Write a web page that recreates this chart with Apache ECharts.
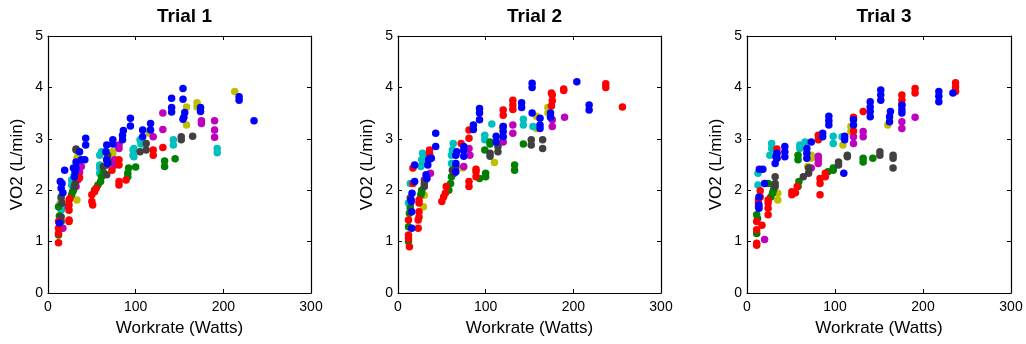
<!DOCTYPE html>
<html>
<head>
<meta charset="utf-8">
<script src="https://cdn.jsdelivr.net/npm/echarts@6/dist/echarts.min.js"></script>
<style>html,body{margin:0;padding:0;background:#fff;}#c{width:1026px;height:344px;}</style>
</head>
<body>
<div id="c"></div>
<script>
// ---- Data (Workrate W, VO2 L/min) ----
const trialTitles = ['Trial 1', 'Trial 2', 'Trial 3'];
const xTicks = [0, 100, 200, 300];
const yTicks = [0, 1, 2, 3, 4, 5];
const xAxisName = 'Workrate (Watts)';
const yAxisName = 'VO2 (L/min)';
const subjectNames = ['S1', 'S2', 'S3', 'S4', 'S5', 'S6', 'S7'];

// Trial 1
const t1Yellow = [[15,1.63],[14,1.75],[33,1.81],[33,2.62],[34,2.65],[35,2.55],[60,2.40],[73,2.68],[73,2.75],[74,2.72],[116,3.11],[116,3.17],[158,3.27],[158,3.62],[170,3.62],[170,3.70],[213,3.92]];
const t1Magenta = [[17,1.26],[17,1.68],[32,2.07],[34,2.20],[38,2.46],[36,2.35],[76,2.49],[76,2.59],[80,2.85],[81,2.81],[81,2.88],[120,3.04],[131,3.18],[131,3.50],[175,3.30],[175,3.35],[190,3.03],[190,3.17],[190,3.35]];
const t1Cyan = [[15,1.61],[15,1.84],[15,1.70],[27,2.10],[27,2.20],[30,2.30],[59,2.33],[59,2.43],[59,2.49],[59,2.68],[61,2.75],[97,2.68],[97,2.78],[98,2.65],[98,2.81],[105,2.98],[106,2.90],[143,2.88],[143,2.98],[193,2.73],[193,2.81]];
const t1Green = [[12,1.13],[12,1.68],[13,1.50],[27,1.91],[28,1.97],[29,2.00],[53,2.00],[57,2.10],[60,2.17],[61,2.26],[63,2.35],[91,2.26],[91,2.33],[92,2.43],[100,2.45],[133,2.46],[133,2.57],[145,2.61]];
const t1Gray = [[15,1.39],[15,1.48],[15,1.87],[16,1.75],[30,2.07],[31,2.13],[32,2.78],[32,2.80],[63,2.46],[67,2.30],[67,2.49],[67,2.59],[68,2.68],[69,2.55],[105,2.75],[112,2.78],[112,2.91],[152,2.98],[152,3.04],[165,3.05]];
const t1Red = [[12,0.98],[12,1.16],[12,1.26],[12,1.39],[24,1.39],[24,1.42],[24,1.61],[24,1.71],[24,1.81],[25,1.84],[36,2.24],[50,1.91],[50,1.78],[51,1.71],[53,1.97],[55,2.04],[73,2.39],[81,2.10],[81,2.17],[81,2.49],[81,2.59],[89,2.20],[120,2.68],[120,2.78],[131,2.83]];
const t1Blue = [[13,1.36],[14,2.17],[16,2.13],[15,2.04],[17,1.95],[19,2.39],[29,2.43],[30,2.26],[31,2.36],[32,2.43],[32,2.55],[36,2.75],[38,2.59],[43,2.88],[43,3.01],[42,2.59],[66,2.75],[67,2.88],[67,2.59],[68,2.52],[74,2.98],[74,2.90],[85,2.98],[85,3.07],[86,3.16],[94,3.25],[94,3.40],[108,3.04],[108,3.17],[117,3.17],[117,3.30],[141,3.52],[141,3.61],[141,3.79],[154,3.38],[155,3.42],[156,3.51],[154,3.77],[154,3.98],[174,3.53],[174,3.61],[218,3.75],[218,3.82],[235,3.35]];

// Trial 2
const t2Yellow = [[29,1.68],[30,1.90],[74,2.43],[110,2.54],[119,3.01],[119,3.20],[158,3.20],[158,3.44],[171,3.50],[171,3.61]];
const t2Magenta = [[14,1.70],[30,2.20],[37,2.33],[75,2.46],[82,2.68],[81,2.81],[120,2.94],[131,3.11],[131,3.27],[176,3.24],[176,3.37],[190,3.42]];
const t2Cyan = [[12,1.75],[14,2.13],[26,2.46],[27,2.59],[28,2.72],[29,2.62],[29,2.52],[61,2.52],[61,2.68],[62,2.78],[63,2.91],[99,2.98],[99,3.07],[107,3.29],[143,3.27],[143,3.38],[154,3.24]];
const t2Green = [[12,1.00],[12,1.29],[13,1.55],[14,1.65],[26,1.91],[27,2.00],[27,1.95],[58,2.00],[60,2.13],[61,2.26],[93,2.23],[100,2.26],[100,2.33],[99,2.78],[105,2.90],[105,2.94],[133,2.39],[133,2.49],[143,2.90]];
const t2Gray = [[14,1.85],[30,2.07],[30,2.13],[31,2.20],[62,2.39],[64,2.33],[66,2.46],[105,2.66],[105,2.72],[114,2.75],[114,2.85],[152,2.88],[152,2.98],[165,2.81],[165,2.98]];
const t2Red = [[13,0.90],[12,1.06],[12,1.13],[12,1.42],[17,2.13],[17,2.43],[23,1.26],[23,1.42],[24,1.48],[24,1.58],[24,1.75],[24,1.81],[36,2.68],[36,2.72],[36,2.78],[50,1.78],[52,1.87],[54,1.94],[55,2.07],[72,2.91],[81,2.07],[81,2.17],[81,3.01],[81,3.17],[89,2.26],[89,2.36],[89,2.41],[120,3.24],[120,3.46],[120,3.56],[131,3.57],[131,3.66],[131,3.75],[175,3.64],[176,3.74],[176,3.85],[175,3.89],[189,3.94],[189,3.97],[237,4.00],[237,4.07],[256,3.62]];
const t2Blue = [[15.6,1.26],[15.6,1.58],[15,1.78],[15,1.81],[16,1.94],[19,2.17],[19,2.49],[32,2.30],[33,2.23],[34,2.49],[35,2.59],[37,2.62],[38,2.62],[43,2.85],[43,3.11],[66,2.36],[66,2.52],[66,2.68],[67,2.75],[75,2.66],[75,2.77],[75,2.85],[86,3.18],[86,3.27],[93,3.37],[93,3.50],[93,3.59],[112,2.94],[112,3.05],[120,3.04],[120,3.14],[120,3.24],[141,3.61],[141,3.70],[153,3.50],[153,4.00],[153,4.08],[162,3.20],[162,3.27],[162,3.40],[174,3.42],[174,3.50],[204,4.11],[218,3.56],[218,3.66]];

// Trial 3
const t3Yellow = [[14,1.87],[35,1.81],[35,1.94],[69,2.46],[73,2.62],[73,2.68],[109,2.88],[118,3.14],[118,3.24],[160,3.27]];
const t3Magenta = [[20,1.04],[30,2.10],[73,2.43],[81,2.52],[81,2.59],[81,2.66],[121,2.91],[121,3.04],[132,3.04],[132,3.14],[176,3.20],[176,3.33],[191,3.42]];
const t3Cyan = [[12.5,2.10],[12.5,2.33],[26,2.68],[28,2.81],[28,2.91],[60,2.81],[60,2.88],[66,2.94],[98,2.91],[98,3.05],[108,3.04]];
const t3Green = [[11,1.16],[11,1.52],[12,1.45],[24,2.13],[27,1.87],[29,1.94],[30,2.00],[58,2.07],[59,2.17],[58,2.59],[58,2.68],[92,2.36],[98,2.39],[98,2.43],[132,2.55],[132,2.62],[143,2.62]];
const t3Gray = [[13,1.75],[32,2.07],[32,2.13],[32,2.26],[64,2.26],[70,2.33],[70,2.43],[104,2.49],[104,2.55],[114,2.65],[114,2.68],[151,2.68],[151,2.75],[166,2.43],[166,2.62],[166,2.68]];
const t3Red = [[11,0.93],[11,0.97],[11,1.23],[11,1.39],[17,1.32],[13,1.68],[13,1.81],[15,1.87],[15,1.99],[24,1.52],[24,1.65],[24,1.75],[24,1.81],[34,2.62],[34,2.72],[34,2.80],[51,1.91],[51,1.97],[55,1.95],[57,2.07],[81,2.98],[81,3.07],[83,1.91],[83,2.13],[83,2.23],[89,2.26],[89,2.33],[121,3.15],[121,3.42],[132,3.53],[176,3.66],[176,3.75],[176,3.85],[191,3.89],[191,3.98],[237,3.92],[237,4.01],[237,4.09]];
const t3Blue = [[14,2.41],[18,2.41],[13.6,1.65],[13.6,1.71],[13.6,1.87],[20,2.13],[32,2.52],[33,2.65],[34,2.62],[34,2.72],[43,2.65],[43,2.75],[43,2.85],[68,2.62],[68,2.72],[68,2.81],[73,2.94],[86,3.04],[86,3.11],[93,3.27],[93,3.35],[93,3.44],[110,2.33],[111,2.98],[111,3.05],[121,3.27],[121,3.37],[140,3.43],[140,3.53],[140,3.62],[140,3.72],[152,3.75],[152,3.85],[152,3.95],[162,3.33],[162,3.43],[163,3.53],[176,3.50],[176,3.57],[176,3.66],[218,3.72],[218,3.83],[218,3.92],[234,3.89]];

const trials = [
  [t1Yellow, t1Magenta, t1Cyan, t1Green, t1Gray, t1Red, t1Blue],
  [t2Yellow, t2Magenta, t2Cyan, t2Green, t2Gray, t2Red, t2Blue],
  [t3Yellow, t3Magenta, t3Cyan, t3Green, t3Gray, t3Red, t3Blue]
];
const colors = ['#BFBF00', '#BF00BF', '#00BFBF', '#008000', '#404040', '#FF0000', '#0000FF'];

// ---- Layout ----
const grids = [
  {left: 48, top: 36, width: 263, height: 257},
  {left: 398, top: 36, width: 263, height: 257},
  {left: 747, top: 36, width: 264, height: 257}
];
const FONT = 'Liberation Sans, Arial, Helvetica, sans-serif';

const xAxes = [], yAxes = [], titles = [], series = [];
grids.forEach((g, i) => {
  const common = {
    gridIndex: i,
    axisLine: {show: true, onZero: false, lineStyle: {color: '#000', width: 1.2}},
    axisTick: {show: true, inside: true, length: 4, lineStyle: {color: '#000'}},
    splitLine: {show: false}
  };
  xAxes.push(Object.assign({}, common, {
    type: 'value', position: 'bottom',
    min: xTicks[0], max: xTicks[xTicks.length - 1], interval: xTicks[1] - xTicks[0],
    axisLabel: {color: '#000', fontSize: 14, fontFamily: FONT, margin: 7},
    name: xAxisName, nameLocation: 'middle', nameGap: 27,
    nameTextStyle: {color: '#000', fontSize: 17, fontFamily: FONT}
  }));
  xAxes.push(Object.assign({}, common, {
    type: 'value', position: 'top',
    min: xTicks[0], max: xTicks[xTicks.length - 1], interval: xTicks[1] - xTicks[0],
    axisLabel: {show: false}
  }));
  yAxes.push(Object.assign({}, common, {
    type: 'value', position: 'left',
    min: yTicks[0], max: yTicks[yTicks.length - 1], interval: yTicks[1] - yTicks[0],
    axisLabel: {color: '#000', fontSize: 14, fontFamily: FONT, margin: 5},
    name: yAxisName, nameLocation: 'middle', nameGap: 22,
    nameTextStyle: {color: '#000', fontSize: 17, fontFamily: FONT}
  }));
  yAxes.push(Object.assign({}, common, {
    type: 'value', position: 'right',
    min: yTicks[0], max: yTicks[yTicks.length - 1], interval: yTicks[1] - yTicks[0],
    axisLabel: {show: false}
  }));
  titles.push({
    text: trialTitles[i],
    left: g.left + g.width / 2, top: 2, textAlign: 'center',
    textStyle: {color: '#000', fontSize: 19, fontWeight: 'bold', fontFamily: FONT}
  });
  trials[i].forEach((arr, k) => {
    series.push({
      type: 'scatter', name: subjectNames[k],
      xAxisIndex: 2 * i, yAxisIndex: 2 * i,
      data: arr, symbol: 'circle', symbolSize: 7.5,
      itemStyle: {color: colors[k], opacity: 1},
      emphasis: {disabled: true}, silent: true
    });
  });
});

const chart = echarts.init(document.getElementById('c'), null, {renderer: 'canvas'});
chart.setOption({
  animation: false,
  backgroundColor: '#fff',
  title: titles,
  grid: grids.map(g => Object.assign({containLabel: false, outerBoundsMode: 'none'}, g)),
  xAxis: xAxes,
  yAxis: yAxes,
  series: series
});
</script>
</body>
</html>
